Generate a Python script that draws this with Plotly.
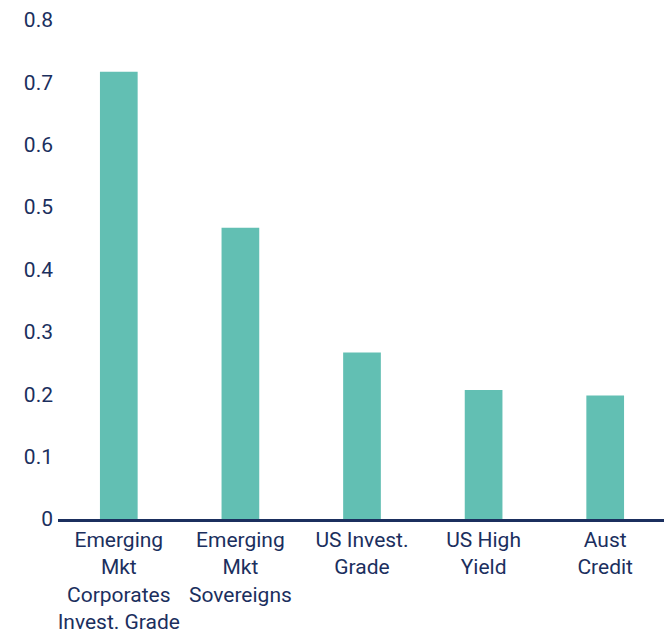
import plotly.graph_objects as go

categories = [
    "Emerging<br>Mkt<br>Corporates<br>Invest. Grade",
    "Emerging<br>Mkt<br>Sovereigns",
    "US Invest.<br>Grade",
    "US High<br>Yield",
    "Aust<br>Credit",
]
values = [0.717, 0.467, 0.267, 0.207, 0.198]
y_ticks = [0, 0.1, 0.2, 0.3, 0.4, 0.5, 0.6, 0.7, 0.8]
y_tick_labels = ["0", "0.1", "0.2", "0.3", "0.4", "0.5", "0.6", "0.7", "0.8"]

navy = "#1B2F5E"
teal = "#62BFB3"
font_family = "Roboto, Liberation Sans, sans-serif"

fig = go.Figure(
    go.Bar(
        x=categories,
        y=values,
        marker=dict(color=teal, line=dict(width=0)),
        hoverinfo="skip",
    )
)

fig.update_layout(
    width=672,
    height=641,
    margin=dict(l=50, r=14, t=12, b=130),
    paper_bgcolor="white",
    plot_bgcolor="white",
    bargap=0.69,
    showlegend=False,
    font=dict(family=font_family, size=21, color=navy),
)

fig.update_xaxes(
    showline=True,
    linecolor=navy,
    linewidth=2.5,
    showgrid=False,
    zeroline=False,
    ticks="",
    automargin=False,
    tickfont=dict(family=font_family, size=21, color=navy),
    tickangle=0,
)

fig.update_yaxes(
    range=[0, 0.8],
    tickvals=y_ticks,
    ticktext=y_tick_labels,
    showgrid=False,
    zeroline=False,
    showline=False,
    ticks="",
    automargin=False,
    ticklabelstandoff=4,
    tickfont=dict(family=font_family, size=21, color=navy),
)

fig.write_html("out.html")
